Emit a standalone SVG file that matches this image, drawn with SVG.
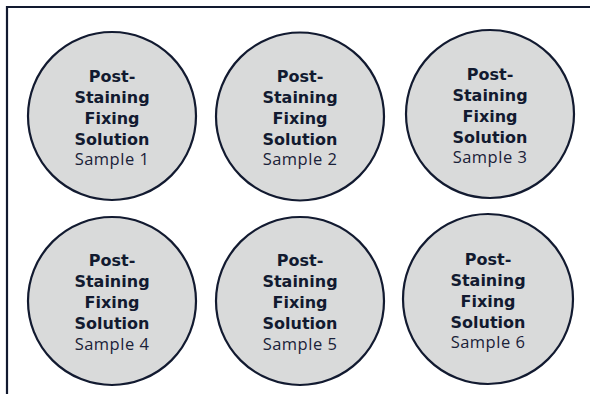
<svg xmlns="http://www.w3.org/2000/svg" width="590" height="394" viewBox="0 0 590 394">
<style>
.c{fill:#D9DADA;stroke:#121A30;stroke-width:2.2}
.b{font-family:"DejaVu Sans","Open Sans",sans-serif;font-weight:700;font-size:16px;fill:#121A30;text-anchor:middle}
.l{font-family:"Open Sans","Liberation Sans",sans-serif;font-weight:400;font-size:16.5px;letter-spacing:0.5px;fill:#1A2138;text-anchor:middle}
.f{fill:none;stroke:#121A30;stroke-width:2.2}
</style>
<rect width="590" height="394" fill="#fff"/>
<path class="f" d="M7,394 V7 H590"/>
<g id="s1"><circle class="c" cx="112" cy="116" r="84"/>
<text class="b" x="112" y="82">Post-</text><text class="b" x="112" y="103">Staining</text><text class="b" x="112" y="124">Fixing</text><text class="b" x="112" y="145">Solution</text><text class="l" x="112" y="165">Sample 1</text></g>
<g id="s2"><circle class="c" cx="300" cy="116.5" r="84"/>
<text class="b" x="300" y="82">Post-</text><text class="b" x="300" y="103">Staining</text><text class="b" x="300" y="124">Fixing</text><text class="b" x="300" y="145">Solution</text><text class="l" x="300" y="165">Sample 2</text></g>
<g id="s3"><circle class="c" cx="490" cy="114" r="84"/>
<text class="b" x="490" y="80">Post-</text><text class="b" x="490" y="101">Staining</text><text class="b" x="490" y="122">Fixing</text><text class="b" x="490" y="143">Solution</text><text class="l" x="490" y="163">Sample 3</text></g>
<g id="s4"><circle class="c" cx="112" cy="301" r="84"/>
<text class="b" x="112" y="266">Post-</text><text class="b" x="112" y="287">Staining</text><text class="b" x="112" y="308">Fixing</text><text class="b" x="112" y="329">Solution</text><text class="l" x="112" y="350">Sample 4</text></g>
<g id="s5"><circle class="c" cx="300" cy="301" r="84"/>
<text class="b" x="300" y="266">Post-</text><text class="b" x="300" y="287">Staining</text><text class="b" x="300" y="308">Fixing</text><text class="b" x="300" y="329">Solution</text><text class="l" x="300" y="350">Sample 5</text></g>
<g id="s6"><circle class="c" cx="488" cy="299" r="85"/>
<text class="b" x="488" y="265">Post-</text><text class="b" x="488" y="286">Staining</text><text class="b" x="488" y="307">Fixing</text><text class="b" x="488" y="328">Solution</text><text class="l" x="488" y="348">Sample 6</text></g>
<g id="connectors"/>
</svg>
